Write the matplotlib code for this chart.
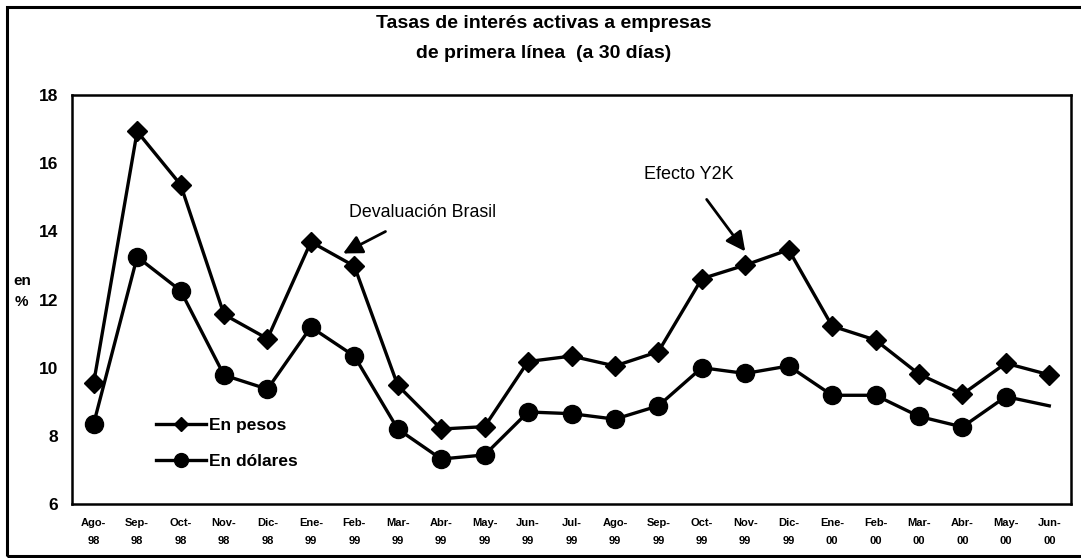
import matplotlib
matplotlib.use("Agg")
import matplotlib.pyplot as plt
from matplotlib.lines import Line2D
from matplotlib.patches import Rectangle

plt.rcParams['font.family'] = ['Liberation Sans', 'DejaVu Sans']

meses = ["Ago-\n98", "Sep-\n98", "Oct-\n98", "Nov-\n98", "Dic-\n98", "Ene-\n99", "Feb-\n99",
         "Mar-\n99", "Abr-\n99", "May-\n99", "Jun-\n99", "Jul-\n99", "Ago-\n99", "Sep-\n99",
         "Oct-\n99", "Nov-\n99", "Dic-\n99", "Ene-\n00", "Feb-\n00", "Mar-\n00", "Abr-\n00",
         "May-\n00", "Jun-\n00"]
en_pesos = [9.56, 16.93, 15.37, 11.56, 10.85, 13.69, 12.98, 9.48, 8.20, 8.27, 10.18, 10.34,
            10.05, 10.47, 12.61, 13.01, 13.46, 11.22, 10.81, 9.81, 9.22, 10.13, 9.79]
en_dolares = [8.36, 13.25, 12.26, 9.78, 9.37, 11.19, 10.34, 8.20, 7.32, 7.44, 8.70, 8.65,
              8.49, 8.88, 10.00, 9.83, 10.05, 9.19, 9.19, 8.57, 8.26, 9.15, 8.88]
y_ticks = [6, 8, 10, 12, 14, 16, 18]

fig = plt.figure(figsize=(10.81, 5.58), dpi=100)
ax = fig.add_axes([72/1081, 54/558, 999/1081, 409/558])

x = list(range(len(meses)))
ax.plot(x, en_pesos, color='black', lw=2.4, marker='D', ms=10, zorder=3)
ax.plot(x, en_dolares, color='black', lw=2.4, zorder=3)
ax.plot(x[:-1], en_dolares[:-1], color='black', lw=0, marker='o', ms=13, zorder=4)

ax.set_xlim(-0.5, 22.5)
ax.set_ylim(6, 18)
ax.set_yticks(y_ticks)
ax.set_yticklabels([str(v) for v in y_ticks], fontsize=12.5, fontweight='bold')
ax.set_xticks(x)
ax.set_xticklabels(meses, fontsize=8, fontweight='bold', linespacing=2.0)
ax.tick_params(axis='both', length=0)
ax.tick_params(axis='y', pad=10)
ax.tick_params(axis='x', pad=10)
for s in ax.spines.values():
    s.set_linewidth(1.8)

handles = [Line2D([], [], color='black', lw=2.4, marker='D', ms=7),
           Line2D([], [], color='black', lw=2.4, marker='o', ms=10)]
ax.legend(handles, ["En pesos", "En dólares"], loc='center left',
          bbox_to_anchor=(0.084, 0.148), frameon=False,
          prop=dict(size=12.5, weight='bold'),
          handlelength=2.9, handletextpad=0.15, labelspacing=1.2,
          borderpad=0, borderaxespad=0)

fig.text(0.503, 1 - 24/558, "Tasas de interés activas a empresas", ha='center', va='center',
         fontsize=14, fontweight='bold')
fig.text(0.503, 1 - 53/558, "de primera línea  (a 30 días)", ha='center', va='center',
         fontsize=14, fontweight='bold')
fig.text(22/1081, 1 - 281/558, "en", ha='center', va='center', fontsize=11, fontweight='bold')
fig.text(21/1081, 1 - 302/558, "%", ha='center', va='center', fontsize=11, fontweight='bold')

ax.annotate("Devaluación Brasil", xy=(5.74, 13.35), xytext=(7.56, 14.55),
            ha='center', va='center', fontsize=12.8,
            arrowprops=dict(arrowstyle='-|>,head_length=0.9,head_width=0.45', color='black',
                            lw=2, shrinkA=12, shrinkB=0))
ax.annotate("Efecto Y2K", xy=(15.0, 13.41), xytext=(13.69, 15.66),
            ha='center', va='center', fontsize=13,
            arrowprops=dict(arrowstyle='-|>,head_length=0.9,head_width=0.45', color='black',
                            lw=2, shrinkA=12, shrinkB=0))

fig.patches.append(Rectangle((7/1081, 2/558), 1.1, 549/558, transform=fig.transFigure,
                             fill=False, edgecolor='black', lw=2.2, clip_on=False))

fig.savefig("out.png", dpi=100)
